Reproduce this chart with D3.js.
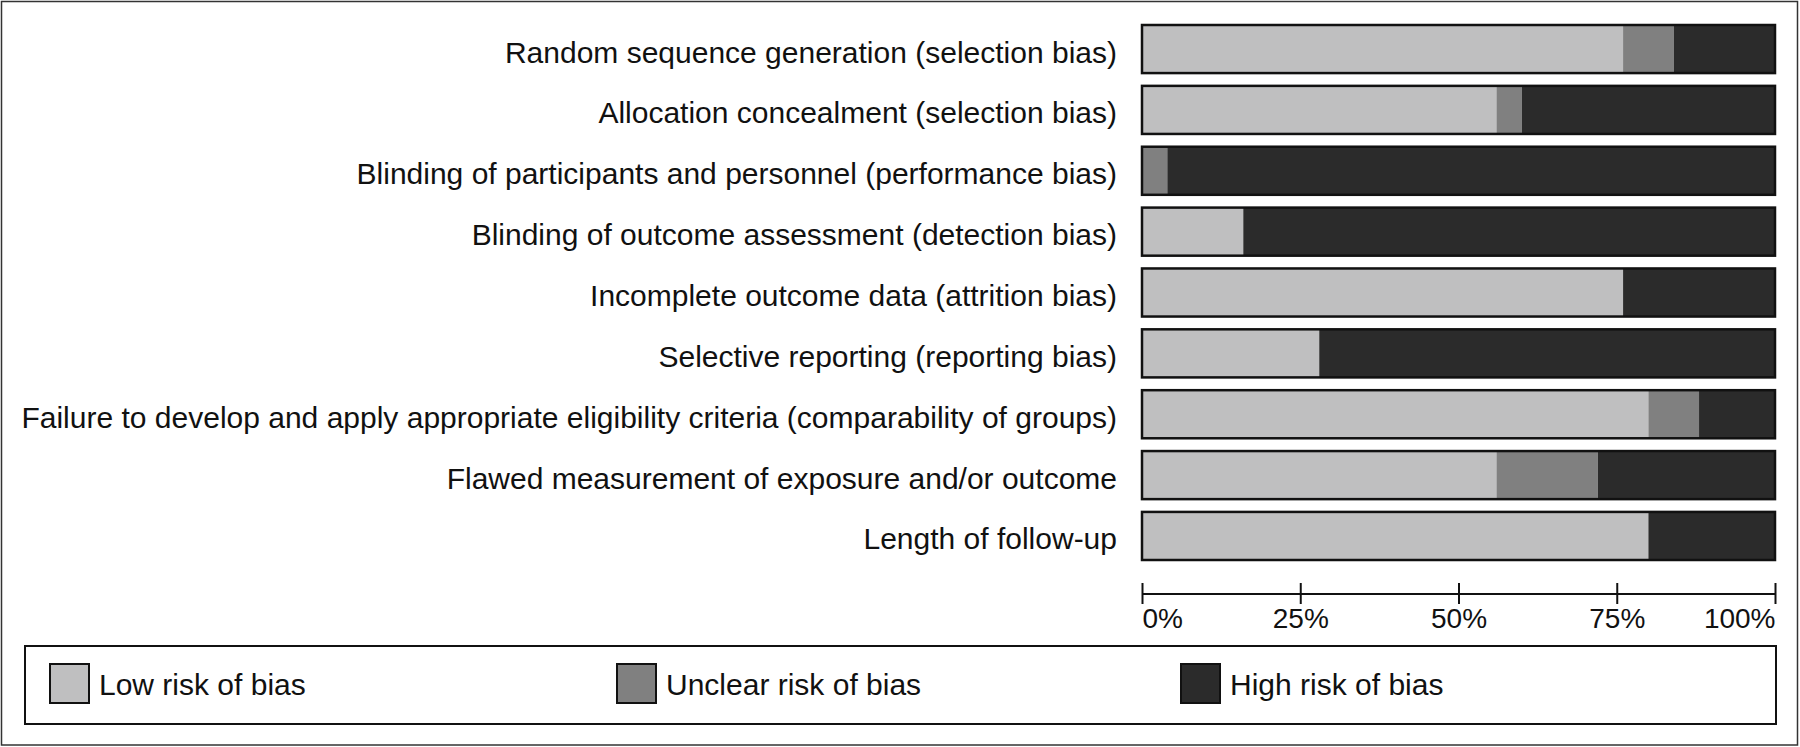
<!DOCTYPE html>
<html>
<head>
<meta charset="utf-8">
<script src="https://cdn.jsdelivr.net/npm/d3@7"></script>
<style>
  html, body { margin: 0; padding: 0; background: #fff; }
  svg { display: block; }
  text { font-family: "Liberation Sans", Arial, sans-serif; fill: #111; }
</style>
</head>
<body>
<svg id="chart" width="1800" height="747"></svg>
<script>
// ---- data ----
const categories = [
  "Random sequence generation (selection bias)",
  "Allocation concealment (selection bias)",
  "Blinding of participants and personnel (performance bias)",
  "Blinding of outcome assessment (detection bias)",
  "Incomplete outcome data (attrition bias)",
  "Selective reporting (reporting bias)",
  "Failure to develop and apply appropriate eligibility criteria (comparability of groups)",
  "Flawed measurement of exposure and/or outcome",
  "Length of follow-up"
];
const lowRisk     = [76, 56, 0, 16, 76, 28, 80, 56, 80];
const unclearRisk = [8, 4, 4, 0, 0, 0, 8, 16, 0];
const highRisk    = [16, 40, 96, 84, 24, 72, 12, 28, 20];
const tickValues  = [0, 25, 50, 75, 100];
const tickLabels  = ["0%", "25%", "50%", "75%", "100%"];
const seriesNames = ["Low risk of bias", "Unclear risk of bias", "High risk of bias"];
const seriesKeys  = ["low", "unclear", "high"];
const seriesColors = ["#bfbfc0", "#808080", "#2b2b2b"];

// ---- build table ----
const rows = categories.map((c, i) => ({
  category: c, low: lowRisk[i], unclear: unclearRisk[i], high: highRisk[i]
}));

const svg = d3.select("#chart");

// outer frame
svg.append("rect")
  .attr("x", 1.5).attr("y", 1.5)
  .attr("width", 1796).attr("height", 743.5)
  .attr("fill", "none").attr("stroke", "#333").attr("stroke-width", 1.5);

const x = d3.scaleLinear().domain([0, 100]).range([1142, 1775]);
const y = d3.scaleBand().domain(categories).range([25, 560]).paddingInner(0.21).paddingOuter(0);
const color = d3.scaleOrdinal().domain(seriesKeys).range(seriesColors);

const stack = d3.stack().keys(seriesKeys);
const stacked = stack(rows);

const gBars = svg.append("g");
gBars.selectAll("g.series")
  .data(stacked)
  .join("g")
  .attr("class", "series")
  .attr("fill", d => color(d.key))
  .selectAll("rect")
  .data(d => d)
  .join("rect")
  .attr("x", d => x(d[0]))
  .attr("y", d => y(d.data.category))
  .attr("width", d => x(d[1]) - x(d[0]))
  .attr("height", y.bandwidth());

// bar outlines
gBars.selectAll("rect.outline")
  .data(rows)
  .join("rect")
  .attr("class", "outline")
  .attr("x", x(0))
  .attr("y", d => y(d.category))
  .attr("width", x(100) - x(0))
  .attr("height", y.bandwidth())
  .attr("fill", "none")
  .attr("stroke", "#111")
  .attr("stroke-width", 2.5);

// category labels
svg.append("g").selectAll("text")
  .data(categories)
  .join("text")
  .attr("x", 1117)
  .attr("y", d => y(d) + y.bandwidth() / 2 + 3)
  .attr("text-anchor", "end")
  .attr("dominant-baseline", "central")
  .style("font-size", "30px")
  .text(d => d);

// x axis
const axis = d3.axisBottom(x)
  .tickValues(tickValues)
  .tickSize(0)
  .tickFormat((d, i) => tickLabels[i]);
const gAxis = svg.append("g").attr("transform", "translate(0,594)").call(axis);
gAxis.select(".domain").attr("stroke", "#111").attr("stroke-width", 2).attr("d", `M${x(0)},0H${x(100)}`);
gAxis.selectAll(".tick line").attr("y1", -11).attr("y2", 10).attr("stroke", "#111").attr("stroke-width", 2);
gAxis.selectAll(".tick text")
  .attr("y", 34)
  .attr("dy", 0)
  .style("font-family", "\"Liberation Sans\", Arial, sans-serif")
  .style("font-size", "28px")
  .attr("fill", "#111")
  .attr("text-anchor", (d, i) => i === 0 ? "start" : (i === tickValues.length - 1 ? "end" : "middle"));

// legend
svg.append("rect")
  .attr("x", 25).attr("y", 646)
  .attr("width", 1751).attr("height", 78)
  .attr("fill", "none").attr("stroke", "#111").attr("stroke-width", 2);

const legendX = [49, 616, 1180];
const lg = svg.append("g").selectAll("g")
  .data(seriesKeys)
  .join("g")
  .attr("transform", (d, i) => `translate(${legendX[i]},663)`);
lg.append("rect")
  .attr("x", 1).attr("y", 1)
  .attr("width", 39).attr("height", 39)
  .attr("fill", d => color(d))
  .attr("stroke", "#111").attr("stroke-width", 2);
lg.append("text")
  .attr("x", 50)
  .attr("y", 21)
  .attr("dominant-baseline", "central")
  .style("font-size", "30px")
  .text((d, i) => seriesNames[i]);
</script>
</body>
</html>
